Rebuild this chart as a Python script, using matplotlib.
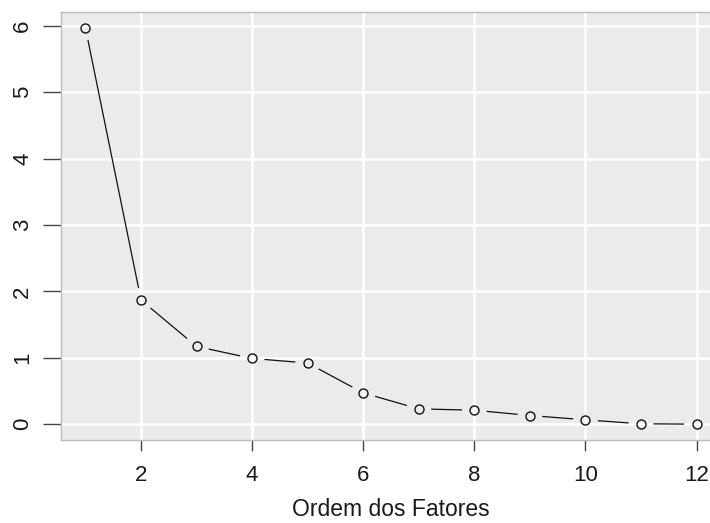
import numpy as np
import matplotlib.pyplot as plt

plt.rcParams['font.family'] = ['Liberation Sans', 'DejaVu Sans']

# autovalores por ordem do fator
fatores = [1, 2, 3, 4, 5, 6, 7, 8, 9, 10, 11, 12]
autovalores = [5.97, 1.87, 1.17, 0.99, 0.92, 0.47, 0.23, 0.21, 0.13, 0.065, 0.005, 0.0]
x_ticks = [2, 4, 6, 8, 10, 12]
y_ticks = [0, 1, 2, 3, 4, 5, 6]

W, H = 710, 523
fig = plt.figure(figsize=(W / 100, H / 100), dpi=100)
# a regiao do grafico passa da borda direita (como no original)
ax = fig.add_axes([61 / W, (H - 440) / H, (721 - 61) / W, (440 - 12) / H])
ax.set_facecolor('#EBEBEB')
ax.set_xlim(0.56, 12.44)
ax.set_ylim(-0.239, 6.209)

for xv in x_ticks:
    ax.axvline(xv, color='white', lw=1.8, zorder=1)
for yv in y_ticks:
    ax.axhline(yv, color='white', lw=1.8, zorder=1)

# linhas com intervalo em volta dos pontos (como type="b")
gap = 13  # pixels
pts = ax.transData.transform(np.column_stack([fatores, autovalores]))
inv = ax.transData.inverted()
for i in range(len(pts) - 1):
    p0, p1 = pts[i], pts[i + 1]
    d = p1 - p0
    L = np.hypot(*d)
    if L <= 2 * gap:
        continue
    u = d / L
    a = inv.transform(p0 + u * gap)
    b = inv.transform(p1 - u * gap)
    ax.plot([a[0], b[0]], [a[1], b[1]], color='#111111', lw=0.9, zorder=2)

ax.plot(fatores, autovalores, ls='none', marker='o', ms=6.5, mfc='none',
        mec='#111111', mew=1.0, zorder=3)

for s in ax.spines.values():
    s.set_color('#BDBDBD')
    s.set_linewidth(1)
ax.spines['right'].set_visible(False)

ax.set_xticks(x_ticks)
ax.set_yticks(y_ticks)
ax.tick_params(axis='x', length=8, width=1, color='#444444', labelsize=16, pad=10, labelcolor='#1a1a1a')
ax.tick_params(axis='y', length=13, width=1, color='#444444', labelsize=16, pad=7, labelcolor='#1a1a1a')
for lab in ax.get_yticklabels():
    lab.set_rotation(90)
    lab.set_va('center')
ax.set_xlabel('Ordem dos Fatores', fontsize=16.5, color='#1a1a1a', va='center')
ax.xaxis.set_label_coords(0.5, -70 / 428)

fig.savefig('out.png', dpi=100)
